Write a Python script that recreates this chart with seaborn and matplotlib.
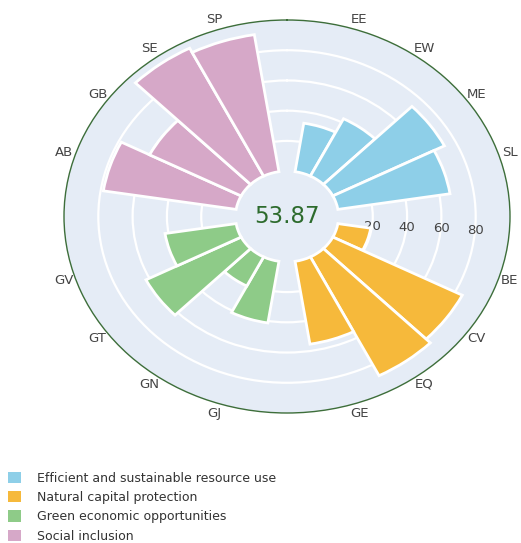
import numpy as np
import pandas as pd
import matplotlib
matplotlib.use('Agg')
import matplotlib.pyplot as plt
from matplotlib.patches import Patch
import seaborn as sns

# =========================
# DATA
# =========================

groups = [
    'Efficient and sustainable resource use',
    'Natural capital protection',
    'Green economic opportunities',
    'Social inclusion',
]
group_colors = ['#8ecfe8', '#f6b93b', '#8ecb88', '#d6a8c8']

indicators = [
    ['EE', 'EW', 'ME', 'SL'],
    ['BE', 'CV', 'EQ', 'GE'],
    ['GJ', 'GN', 'GT', 'GV'],
    ['AB', 'GB', 'SE', 'SP'],
]
scores = [
    [32.5, 42.6, 73.0, 66.2],
    [19.4, 84.7, 88.2, 55.5],
    [41.3, 21.6, 62.3, 42.0],
    [78.4, 59.9, 95.0, 91.8],
]
overall_score = '53.87'

# =========================
# BUILD TABLE
# =========================

# 4 bars per group + one empty slot between groups
n_slots = sum(len(g) + 1 for g in indicators)
slot = 2 * np.pi / n_slots

rows = []
k = 1
for grp, labs, vals in zip(groups, indicators, scores):
    for lab, val in zip(labs, vals):
        rows.append({'theta': k * slot, 'label': lab, 'value': val, 'group': grp})
        k += 1
    k += 1
df = pd.DataFrame(rows)

# =========================
# PLOT
# =========================

sns.set_theme(style='white')
plt.rcParams['font.family'] = ['DejaVu Sans']

fig = plt.figure(figsize=(5.21, 5.43), dpi=100)
ax = fig.add_axes([64 / 521, 130 / 543, 446 / 521, 393 / 543], projection='polar')

sns.barplot(
    data=df,
    x='theta',
    y='value',
    hue='group',
    hue_order=groups,
    palette=group_colors,
    saturation=1,
    native_scale=True,
    width=1,
    dodge=False,
    edgecolor='white',
    linewidth=2,
    legend=False,
    ax=ax,
)

ax.set_aspect('auto')
ax.set_theta_zero_location('N')
ax.set_theta_direction(-1)
ax.set_xlim(0, 2 * np.pi)
ax.set_ylim(-30, 100)
ax.set_facecolor('#e5ecf6')

ax.set_xticks(df['theta'])
ax.set_xticklabels(df['label'], fontsize=9.5, color='#444444')
ax.tick_params(axis='x', pad=-5)
ax.set_yticks([20, 40, 60, 80])
ax.set_yticklabels(['20', '40', '60', '80'], fontsize=9.5, color='#444444',
                   ha='center', va='top')
ax.set_rlabel_position(92.5)

ax.xaxis.grid(False)
ax.yaxis.grid(True, color='white', linewidth=1.6)
ax.spines['polar'].set_color('#3d6e3a')
ax.spines['polar'].set_linewidth(1.0)
ax.set_xlabel('')
ax.set_ylabel('')

ax.text(0, -30, overall_score, ha='center', va='center', fontsize=16.5, color='#2d6b2d')

handles = [Patch(facecolor=c, edgecolor='none', label=g) for g, c in zip(groups, group_colors)]
fig.legend(
    handles=handles,
    loc='upper left',
    bbox_to_anchor=(8 / 521, 0.131),
    frameon=False,
    fontsize=9,
    handlelength=1.05,
    handleheight=1.0,
    handletextpad=1.3,
    labelspacing=0.5,
    borderpad=0,
    borderaxespad=0,
    labelcolor='#333333',
)

fig.savefig('out.png', dpi=100)
